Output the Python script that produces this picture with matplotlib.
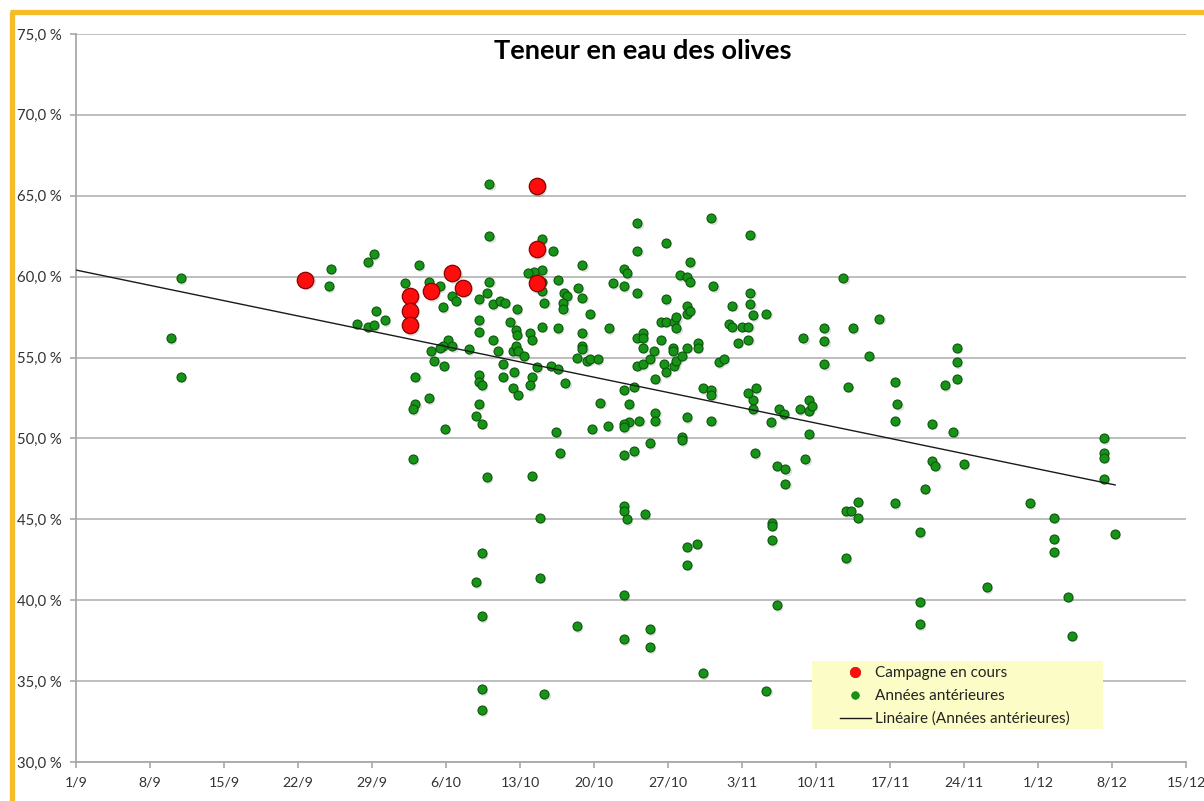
import numpy as np
import matplotlib
matplotlib.use('Agg')
import matplotlib.pyplot as plt
from matplotlib.lines import Line2D
from matplotlib.patches import Rectangle
from matplotlib.ticker import FuncFormatter
import matplotlib.transforms as mtransforms

plt.rcParams['font.family'] = ['Lato', 'DejaVu Sans']

# ---------------- data ----------------
# x = days since 1 September, y = water content (%)
x_tick_labels = ["1/9", "8/9", "15/9", "22/9", "29/9", "6/10", "13/10", "20/10",
                 "27/10", "3/11", "10/11", "17/11", "24/11", "1/12", "8/12", "15/12"]
y_ticks = [30, 35, 40, 45, 50, 55, 60, 65, 70, 75]

red_days = [21.7, 31.6, 31.6, 31.6, 33.6, 35.6, 36.6, 43.6, 43.6, 43.6]
red_vals = [59.8, 58.8, 57.9, 57.0, 59.1, 60.2, 59.3, 65.6, 61.7, 59.6]

green_days = [
    9.0, 9.9, 9.9, 24.1, 23.9, 26.6, 27.6, 28.2, 29.2, 28.4,
    27.6, 28.2, 31.1, 32.4, 33.4, 34.4, 35.6, 35.9, 34.7, 39.1,
    39.1, 39.1, 38.9, 38.1, 39.4, 40.1, 40.6, 41.7, 41.1, 41.6,
    41.7, 42.9, 43.1, 44.1, 45.6, 38.1, 38.1, 39.4, 35.2, 34.7,
    34.4, 33.6, 35.6, 37.2, 39.9, 41.3, 41.6, 41.8, 42.4, 40.4,
    33.9, 34.8, 32.1, 38.1, 40.4, 41.4, 38.1, 38.4, 33.4, 41.3,
    41.8, 43.1, 42.9, 43.6, 44.9, 45.6, 46.3, 44.1, 43.3, 42.8,
    44.1, 45.1, 45.6, 44.1, 44.1, 44.3, 46.2, 46.4, 46.1, 46.1,
    47.5, 47.9, 47.9, 47.9, 47.9, 47.9, 47.4, 48.6, 48.3, 48.6,
    49.4,
    32.1, 31.9, 38.1, 37.8, 38.4, 34.9, 31.9, 38.9, 43.1, 43.9,
    45.4, 45.8, 38.4, 37.8, 43.9, 38.4, 38.4, 38.4, 44.3, 47.4,
    51.8, 51.8, 54.3, 54.3, 51.8, 51.8, 52.1, 53.8, 57.8, 58.7,
    57.8, 59.3, 51.8, 52.8, 54.3, 57.3, 57.3, 57.8, 54.8, 54.8,
    53.3, 52.3, 51.8, 51.8, 52.3, 49.6, 48.8, 50.3, 51.8, 52.8,
    54.8, 53.1, 53.6, 54.3, 55.6, 55.8, 56.6, 56.8, 57.3,
    53.1, 60.1, 63.8, 55.8, 53.1, 58.1, 51.8, 52.1, 50.8, 51.8,
    57.1, 57.8, 58.1, 60.3, 53.1, 55.8, 50.4, 55.3, 55.8, 56.6,
    56.8, 56.8, 57.8, 57.8, 58.1, 55.3, 53.1, 53.6, 53.6, 53.6,
    54.7, 56.5, 56.5, 57.8, 58.8, 58.8, 60.1, 64.2, 66.3, 67.1,
    69.0, 69.3, 65.7, 66.5, 67.0, 68.5, 69.3, 69.3, 69.6, 64.0,
    64.0, 64.3, 63.6, 59.3, 60.1, 60.1, 60.8, 61.3, 61.8, 62.1,
    63.0, 63.6, 63.6, 62.6, 62.1, 63.8, 63.8, 64.0, 65.3, 68.8,
    70.8, 70.8, 70.8, 72.6, 73.5, 76.0, 75.0, 73.0, 77.5, 77.7,
    77.5,
    67.1, 65.8, 65.8, 65.8, 72.8, 73.3, 74.0, 74.0, 77.5, 72.8, 66.3, 65.3,
    83.3, 83.3, 83.3, 82.2, 81.0, 83.0, 81.0, 81.3, 84.0, 80.3, 97.2, 97.2, 97.2, 97.2,
    90.2, 92.5, 79.8, 92.5, 92.5, 98.3, 86.2, 79.8, 79.8, 93.8, 94.2,
]
green_vals = [
    56.2, 59.9, 53.8, 60.5, 59.4, 57.1, 56.9, 57.0, 57.3, 57.9,
    60.9, 61.4, 59.6, 60.7, 59.7, 59.4, 58.8, 58.5, 58.1, 65.7,
    62.5, 59.7, 59.0, 58.6, 58.3, 58.5, 58.4, 58.0, 57.2, 56.7,
    56.4, 56.5, 56.1, 56.9, 56.8, 57.3, 56.6, 56.1, 56.1, 55.7,
    55.6, 55.4, 55.7, 55.5, 55.4, 55.4, 55.7, 55.4, 55.1, 54.6,
    54.8, 54.5, 53.8, 53.9, 53.8, 54.1, 53.5, 53.3, 52.5, 53.1,
    52.7, 53.8, 53.3, 54.4, 54.5, 54.3, 53.4, 60.4, 60.3, 60.2,
    62.3, 61.6, 59.8, 59.7, 59.1, 58.4, 59.0, 58.8, 58.4, 58.0,
    59.3, 60.7, 58.7, 56.5, 55.7, 55.5, 55.0, 57.7, 54.8, 54.9,
    54.9,
    52.1, 51.8, 52.1, 51.4, 50.9, 50.6, 48.7, 47.6, 47.7, 45.1,
    50.4, 49.1, 42.9, 41.1, 41.4, 39.0, 34.5, 33.2, 34.2, 38.4,
    40.3, 37.6, 38.2, 37.1, 45.8, 45.5, 45.0, 45.3, 43.3, 43.5,
    42.2, 35.5, 49.0, 49.2, 49.7, 50.1, 49.9, 51.3, 51.6, 51.1,
    51.1, 51.0, 50.9, 50.7, 52.1, 52.2, 50.6, 50.8, 53.0, 53.2,
    53.7, 54.5, 54.6, 54.9, 54.6, 54.1, 54.5, 54.8, 55.1,
    63.3, 63.6, 62.6, 62.1, 61.6, 60.9, 60.5, 60.2, 59.6, 59.4,
    60.1, 60.0, 59.7, 59.4, 59.0, 58.6, 56.8, 57.2, 57.2, 57.2,
    57.5, 56.8, 58.2, 57.7, 57.9, 56.1, 56.2, 56.5, 56.2, 55.6,
    55.4, 55.6, 55.4, 55.6, 55.9, 55.6, 51.1, 49.1, 48.3, 48.1,
    48.7, 50.3, 51.0, 51.8, 51.5, 51.8, 51.7, 52.4, 52.0, 52.4,
    51.8, 53.1, 52.8, 53.1, 53.0, 52.7, 54.7, 54.9, 57.1, 56.9,
    56.9, 56.9, 56.1, 55.9, 58.2, 59.0, 58.3, 57.6, 57.7, 56.2,
    56.8, 56.0, 54.6, 59.9, 56.8, 57.4, 55.1, 53.2, 53.5, 52.1,
    51.1,
    47.2, 44.8, 44.6, 43.7, 45.5, 45.5, 46.1, 45.1, 46.0, 42.6, 39.7, 34.4,
    55.6, 54.7, 53.7, 53.3, 50.9, 50.4, 48.6, 48.3, 48.4, 46.9, 50.0, 49.1, 48.8, 47.5,
    46.0, 45.1, 44.2, 43.8, 43.0, 44.1, 40.8, 39.9, 38.5, 40.2, 37.8,
]

# ---------------- figure ----------------
W, H = 1204, 801
fig = plt.figure(figsize=(W / 100, H / 100), dpi=100)
fig.patch.set_facecolor('white')

L, R, T, B = 76, 1186, 34, 762
ax = fig.add_axes([L / W, 1 - B / H, (R - L) / W, (B - T) / H])
ax.set_xlim(0, 105)
ax.set_ylim(30, 75)

grid_c = '#b9b9b9'
ax.set_yticks(y_ticks)
ax.yaxis.set_major_formatter(FuncFormatter(lambda v, p: f"{v:.1f}".replace('.', ',') + " %"))
ax.set_xticks(np.arange(0, 106, 7))
ax.set_xticklabels(x_tick_labels)
ax.yaxis.grid(True, color=grid_c, lw=1.3)
ax.set_axisbelow(True)
for s in ['top', 'right']:
    ax.spines[s].set_visible(False)
for s in ['left', 'bottom']:
    ax.spines[s].set_color('#a8a8a8')
    ax.spines[s].set_linewidth(1.3)
ax.tick_params(axis='both', colors='#a8a8a8', labelcolor='#333333',
               length=4.5, width=1.2, pad=6)
ax.tick_params(axis='y', labelsize=10.7)
ax.tick_params(axis='x', labelsize=10.2)

# shadows
shadow = mtransforms.offset_copy(ax.transData, fig=fig, x=1.2, y=-1.5, units='dots')
ax.scatter(green_days, green_vals, s=44, color='#000000', alpha=0.12, lw=0,
           transform=shadow, zorder=2)
ax.scatter(red_days, red_vals, s=150, color='#000000', alpha=0.12, lw=0,
           transform=shadow, zorder=2)

ax.scatter(green_days, green_vals, s=42, facecolor='#179417', edgecolor='#0a560a',
           lw=0.8, zorder=3)

# linear trend of previous years
gd = np.array(green_days)
gv = np.array(green_vals)
slope, icpt = np.polyfit(gd, gv, 1)
xl = np.array([0, gd.max()])
ax.plot(xl, slope * xl + icpt, color='#1a1a1a', lw=1.0, zorder=4)

ax.scatter(red_days, red_vals, s=140, facecolor='#ff0d0d', edgecolor='#8a0000',
           lw=0.9, zorder=5)

# title
fig.text(643 / W, 1 - 51 / H, 'Teneur en eau des olives', ha='center', va='center',
         fontsize=19.5, fontweight='bold', color='black')

# legend
rect = Rectangle((812 / W, 1 - 729 / H), (1103 - 812) / W, (729 - 661) / H,
                 transform=fig.transFigure, facecolor='#fcfcc6', edgecolor='none', zorder=6)
fig.add_artist(rect)
handles = [
    Line2D([], [], ls='none', marker='o', markersize=7.5, markerfacecolor='#ff0d0d',
           markeredgecolor='#cc0000', markeredgewidth=0.5),
    Line2D([], [], ls='none', marker='o', markersize=5.5, markerfacecolor='#179417',
           markeredgecolor='#117711', markeredgewidth=0.5),
    Line2D([], [], color='#1a1a1a', lw=1.0),
]
labels = ['Campagne en cours', 'Années antérieures', 'Linéaire (Années antérieures)']
leg = fig.legend(handles, labels, loc='upper left',
                 bbox_to_anchor=(840 / W, 1 - 666 / H), bbox_transform=fig.transFigure,
                 frameon=False, fontsize=11, handlelength=2.0, handletextpad=0.28,
                 labelspacing=0.58, borderpad=0, borderaxespad=0)
leg.set_zorder(7)
for t in leg.get_texts():
    t.set_color('#222222')

# outer yellow frame (top and left edges)
frame_c = '#f4bd2c'
fig.add_artist(Line2D([11.5 / W, 11.5 / W], [0, 1 - 12 / H], transform=fig.transFigure,
                      color=frame_c, lw=3.8, solid_capstyle='butt'))
fig.add_artist(Line2D([9.5 / W, 1], [1 - 12 / H, 1 - 12 / H], transform=fig.transFigure,
                      color=frame_c, lw=3.8, solid_capstyle='butt'))

fig.savefig('out.png', dpi=100)
